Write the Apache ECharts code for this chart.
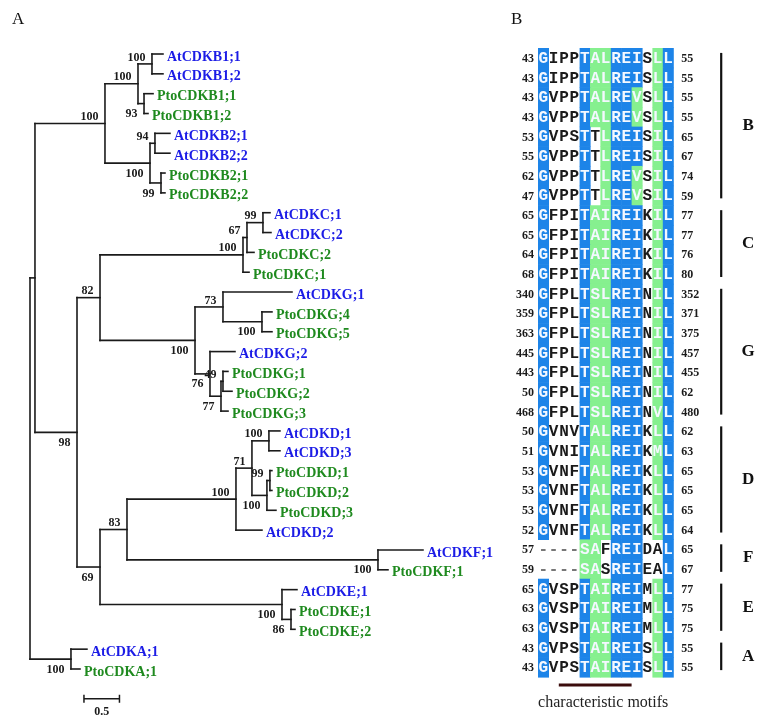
<!DOCTYPE html>
<html><head><meta charset="utf-8">
<script src="https://cdn.jsdelivr.net/npm/echarts@6/dist/echarts.min.js"></script>
<style>html,body{margin:0;padding:0;background:#fff}#c{width:765px;height:724px}</style>
</head><body><div id="c"></div>
<script>
// ---------- Panel A: phylogenetic tree ----------
// [node id, parent id, branch length, bootstrap value, bootstrap side]
const treeNodes = [
 ['root','',0,'',''],
 ['N1','root',0.070,'',''],
 ['B','N1',0.986,'100','up'],
 ['B1','B',0.465,'100','up'],
 ['AtB1','B1',0.197,'100','up'],
 ['AtCDKB1;1','AtB1',0.155,'',''],
 ['AtCDKB1;2','AtB1',0.155,'',''],
 ['PtoB1','B1',0.085,'93','down'],
 ['PtoCDKB1;1','PtoB1',0.127,'',''],
 ['PtoCDKB1;2','PtoB1',0.056,'',''],
 ['B2','B',0.634,'100','down'],
 ['AtB2','B2',0.070,'94','up'],
 ['AtCDKB2;1','AtB2',0.211,'',''],
 ['AtCDKB2;2','AtB2',0.211,'',''],
 ['PtoB2','B2',0.155,'99','down'],
 ['PtoCDKB2;1','PtoB2',0.056,'',''],
 ['PtoCDKB2;2','PtoB2',0.056,'',''],
 ['N2','N1',0.592,'98','down'],
 ['N3','N2',0.324,'82','up'],
 ['C','N3',2.014,'100','up'],
 ['C67','C',0.056,'67','up'],
 ['C99','C67',0.225,'99','up'],
 ['AtCDKC;1','C99',0.099,'',''],
 ['AtCDKC;2','C99',0.113,'',''],
 ['PtoCDKC;2','C67',0.099,'',''],
 ['PtoCDKC;1','C',0.085,'',''],
 ['G','N3',1.338,'100','down'],
 ['G73','G',0.394,'73','up'],
 ['AtCDKG;1','G73',0.972,'',''],
 ['G45','G73',0.549,'100','down'],
 ['PtoCDKG;4','G45',0.141,'',''],
 ['PtoCDKG;5','G45',0.141,'',''],
 ['G76','G',0.211,'76','down'],
 ['AtCDKG;2','G76',0.352,'',''],
 ['G77','G76',0.155,'77','down'],
 ['G49','G77',0.028,'49','up'],
 ['PtoCDKG;1','G49',0.070,'',''],
 ['PtoCDKG;2','G49',0.127,'',''],
 ['PtoCDKG;3','G77',0.099,'',''],
 ['N5','N2',0.324,'69','down'],
 ['N4','N5',0.380,'83','up'],
 ['D','N4',1.535,'100','up'],
 ['D71','D',0.225,'71','up'],
 ['DAt','D71',0.239,'100','up'],
 ['AtCDKD;1','DAt',0.155,'',''],
 ['AtCDKD;3','DAt',0.155,'',''],
 ['DPto','D71',0.211,'100','down'],
 ['D99','DPto',0.042,'99','up'],
 ['PtoCDKD;1','D99',0.028,'',''],
 ['PtoCDKD;2','D99',0.028,'',''],
 ['PtoCDKD;3','DPto',0.127,'',''],
 ['AtCDKD;2','D',0.366,'',''],
 ['F','N4',3.535,'100','down'],
 ['AtCDKF;1','F',0.634,'',''],
 ['PtoCDKF;1','F',0.141,'',''],
 ['E','N5',2.563,'100','down'],
 ['AtCDKE;1','E',0.211,'',''],
 ['PtoE','E',0.127,'86','down'],
 ['PtoCDKE;1','PtoE',0.056,'',''],
 ['PtoCDKE;2','PtoE',0.056,'',''],
 ['A','root',0.577,'100','down'],
 ['AtCDKA;1','A',0.225,'',''],
 ['PtoCDKA;1','A',0.127,'','']
];
const scaleBarLength = 0.5;
const scaleBarLabel = '0.5';

// ---------- Panel B: alignment ----------
const alignStart = [43,43,43,43,53,55,62,47,65,65,64,68,340,359,363,445,443,50,468,50,51,53,53,53,52,57,59,65,63,63,43,43];
const alignEnd   = [55,55,55,55,65,67,74,59,77,77,76,80,352,371,375,457,455,62,480,62,63,65,65,65,64,65,67,77,75,75,55,55];
const alignSeq = [
 'GIPPTALREISLL','GIPPTALREISLL','GVPPTALREVSLL','GVPPTALREVSLL',
 'GVPSTTLREISIL','GVPPTTLREISIL','GVPPTTLREVSIL','GVPPTTLREVSIL',
 'GFPITAIREIKIL','GFPITAIREIKIL','GFPITAIREIKIL','GFPITAIREIKIL',
 'GFPLTSLREINIL','GFPLTSLREINIL','GFPLTSLREINIL','GFPLTSLREINIL','GFPLTSLREINIL','GFPLTSLREINIL','GFPLTSLREINVL',
 'GVNVTALREIKLL','GVNITALREIKML','GVNFTALREIKLL','GVNFTALREIKLL','GVNFTALREIKLL','GVNFTALREIKLL',
 '----SAFREIDAL','----SASREIEAL',
 'GVSPTAIREIMLL','GVSPTAIREIMLL','GVSPTAIREIMLL',
 'GVPSTAIREISLL','GVPSTAIREISLL'
];
// b = identical (blue), g = similar (green), w = unshaded
const alignShade = [
 'bwwwbggbbbwgb','bwwwbggbbbwgb','bwwwbggbbgwgb','bwwwbggbbgwgb',
 'bwwwbwgbbbwgb','bwwwbwgbbbwgb','bwwwbwgbbgwgb','bwwwbwgbbgwgb',
 'bwwwbggbbbwgb','bwwwbggbbbwgb','bwwwbggbbbwgb','bwwwbggbbbwgb',
 'bwwwbggbbbwgb','bwwwbggbbbwgb','bwwwbggbbbwgb','bwwwbggbbbwgb','bwwwbggbbbwgb','bwwwbggbbbwgb','bwwwbggbbbwgb',
 'bwwwbggbbbwgb','bwwwbggbbbwgb','bwwwbggbbbwgb','bwwwbggbbbwgb','bwwwbggbbbwgb','bwwwbggbbbwgb',
 'wwwwggwbbbwwb','wwwwggwbbbwwb',
 'bwwwbggbbbwgb','bwwwbggbbbwgb','bwwwbggbbbwgb',
 'bwwwbggbbbwgb','bwwwbggbbbwgb'
];
const groupNames = ['B','C','G','D','F','E','A'];
const groupFirstRow = [0,8,12,19,25,27,30];
const groupLastRow  = [7,11,18,24,26,29,31];
const motifCols = [2, 8];
const motifLabel = 'characteristic motifs';

// ---------- build tree layout ----------
const byId = {};
treeNodes.forEach(n => { byId[n[0]] = {id:n[0], parent:n[1], bl:n[2], boot:n[3], side:n[4], children:[]}; });
treeNodes.forEach(n => { if (n[1]) byId[n[1]].children.push(byId[n[0]]); });
let leafCounter = 0;
function layout(node, depth) {
  node.x = depth + node.bl;
  if (!node.children.length) { node.y = leafCounter++; }
  else {
    node.children.forEach(c => layout(c, node.x));
    node.y = (node.children[0].y + node.children[node.children.length - 1].y) / 2;
  }
}
layout(byId.root, 0);
const allNodes = treeNodes.map(n => byId[n[0]]);
const segs = [];
allNodes.forEach(n => {
  if (n.parent) { const p = byId[n.parent]; segs.push([p.x, n.y, n.x, n.y]); }
  if (n.children.length) segs.push([n.x, n.children[0].y, n.x, n.children[n.children.length-1].y]);
});
const leaves = allNodes.filter(n => !n.children.length);
const bootNodes = allNodes.filter(n => n.boot);

// ---------- alignment cells ----------
const cells = [];
alignSeq.forEach((s, r) => { for (let c = 0; c < s.length; c++) cells.push([c, r, s[c], alignShade[r][c]]); });
const rowIdx = alignSeq.map((s, r) => r);

const SERIF = 'Liberation Serif, Times New Roman, serif';
const BLUE_TXT = '#1c1ce6', GREEN_TXT = '#1f8a1f';
const SHADE = {b:'#1d84e8', g:'#86f08f', w:'#ffffff'};

const chart = echarts.init(document.getElementById('c'), null, {renderer:'canvas'});
chart.setOption({
  animation:false,
  backgroundColor:'#fff',
  grid:[
    {left:30, top:54, width:426, height:615},
    {left:538, top:48, width:135.2, height:629}
  ],
  xAxis:[
    {type:'value', gridIndex:0, min:0, max:6, show:false},
    {type:'value', gridIndex:1, min:0, max:13, show:false}
  ],
  yAxis:[
    {type:'value', gridIndex:0, min:0, max:31, inverse:true, show:false},
    {type:'value', gridIndex:1, min:0, max:32, inverse:true, show:false}
  ],
  graphic:[
    {type:'text', left:12, top:11, style:{text:'A', font:'17px '+SERIF, fill:'#111'}},
    {type:'text', left:511, top:11, style:{text:'B', font:'17px '+SERIF, fill:'#111'}}
  ],
  series:[
    { // tree branches
      type:'custom', xAxisIndex:0, yAxisIndex:0, clip:false,
      data: segs, encode:{x:[0,2], y:[1,3]},
      renderItem:(params, api) => {
        const s = segs[params.dataIndex];
        const p1 = api.coord([s[0], s[1]]), p2 = api.coord([s[2], s[3]]);
        return {type:'line', shape:{x1:p1[0], y1:p1[1], x2:p2[0], y2:p2[1]},
          style:{stroke:'#1a1a1a', lineWidth:1.6, lineCap:'square'}};
      }
    },
    { // leaf labels
      type:'custom', xAxisIndex:0, yAxisIndex:0, clip:false,
      data: leaves.map(n => [n.x, n.y]),
      renderItem:(params, api) => {
        const n = leaves[params.dataIndex];
        const p = api.coord([n.x, n.y]);
        return {type:'text', x:p[0]+4, y:p[1]+3, style:{text:n.id, font:'bold 14px '+SERIF,
          fill: n.id.startsWith('At') ? BLUE_TXT : GREEN_TXT, textAlign:'left', textVerticalAlign:'middle'}};
      }
    },
    { // bootstrap values
      type:'custom', xAxisIndex:0, yAxisIndex:0, clip:false,
      data: bootNodes.map(n => [n.x, n.y]),
      renderItem:(params, api) => {
        const n = bootNodes[params.dataIndex];
        const p = api.coord([n.x, n.y]);
        return {type:'text', x:p[0]-6.5, y:p[1] + (n.side === 'up' ? -6.5 : 10.5),
          style:{text:n.boot, font:'bold 12px '+SERIF, fill:'#1a1a1a', textAlign:'right', textVerticalAlign:'middle'}};
      }
    },
    { // scale bar
      type:'custom', xAxisIndex:0, yAxisIndex:0, clip:false,
      data:[[0.76, 32.5]],
      renderItem:(params, api) => {
        const a = api.coord([0.76, 32.5]), b = api.coord([0.76 + scaleBarLength, 32.5]);
        const st = {stroke:'#1a1a1a', lineWidth:1.5};
        return {type:'group', children:[
          {type:'line', shape:{x1:a[0], y1:a[1], x2:b[0], y2:b[1]}, style:st},
          {type:'line', shape:{x1:a[0], y1:a[1]-4, x2:a[0], y2:a[1]+4}, style:st},
          {type:'line', shape:{x1:b[0], y1:b[1]-4, x2:b[0], y2:b[1]+4}, style:st},
          {type:'text', x:(a[0]+b[0])/2, y:a[1]+13, style:{text:scaleBarLabel, font:'bold 12px '+SERIF, fill:'#1a1a1a', textAlign:'center', textVerticalAlign:'middle'}}
        ]};
      }
    },
    { // alignment cells
      type:'custom', xAxisIndex:1, yAxisIndex:1, clip:false,
      data: cells.map(c => [c[0], c[1]]),
      renderItem:(params, api) => {
        const c = cells[params.dataIndex];
        const p1 = api.coord([c[0], c[1]]), p2 = api.coord([c[0]+1, c[1]+1]);
        const shaded = c[3] !== 'w';
        const ch = [];
        if (shaded) ch.push({type:'rect', shape:{x:p1[0], y:p1[1], width:p2[0]-p1[0]+0.6, height:p2[1]-p1[1]+0.6},
          style:{fill:SHADE[c[3]]}});
        ch.push({type:'text', x:(p1[0]+p2[0])/2, y:(p1[1]+p2[1])/2+1,
          style:{text:c[2], font:'bold 16px Liberation Mono, Courier New, monospace',
            fill: shaded ? '#f4f8ff' : (c[2] === '-' ? '#777' : '#1a1a1a'), textAlign:'center', textVerticalAlign:'middle'}});
        return {type:'group', children:ch};
      }
    },
    { // alignment position numbers
      type:'custom', xAxisIndex:1, yAxisIndex:1, clip:false,
      data: rowIdx.map(r => [0, r]),
      renderItem:(params, api) => {
        const r = params.dataIndex;
        const a = api.coord([0, r+0.5]), b = api.coord([alignSeq[r].length, r+0.5]);
        const f = 'bold 12px '+SERIF;
        return {type:'group', children:[
          {type:'text', x:a[0]-4, y:a[1]+1, style:{text:String(alignStart[r]), font:f, fill:'#1a1a1a', textAlign:'right', textVerticalAlign:'middle'}},
          {type:'text', x:b[0]+8, y:b[1]+1, style:{text:String(alignEnd[r]), font:f, fill:'#1a1a1a', textAlign:'left', textVerticalAlign:'middle'}}
        ]};
      }
    },
    { // group brackets
      type:'custom', xAxisIndex:1, yAxisIndex:1, clip:false,
      data: groupNames.map((g, i) => [13, groupFirstRow[i]]),
      renderItem:(params, api) => {
        const i = params.dataIndex;
        const a = api.coord([13, groupFirstRow[i] + 0.25]), b = api.coord([13, groupLastRow[i] + 0.65]);
        const x = a[0] + 48;
        return {type:'group', children:[
          {type:'line', shape:{x1:x, y1:a[1], x2:x, y2:b[1]}, style:{stroke:'#111', lineWidth:2.2}},
          {type:'text', x:x+27, y:(a[1]+b[1])/2, style:{text:groupNames[i], font:'bold 17px '+SERIF, fill:'#111', textAlign:'center', textVerticalAlign:'middle'}}
        ]};
      }
    },
    { // motif bar
      type:'custom', xAxisIndex:1, yAxisIndex:1, clip:false,
      data:[[motifCols[0], 32]],
      renderItem:(params, api) => {
        const a = api.coord([motifCols[0], 32]), b = api.coord([motifCols[1]+1, 32]);
        return {type:'group', children:[
          {type:'line', shape:{x1:a[0], y1:a[1]+8, x2:b[0], y2:b[1]+8}, style:{stroke:'#3b0c0c', lineWidth:3}},
          {type:'text', x:(a[0]+b[0])/2 + 8, y:a[1]+26, style:{text:motifLabel, font:'16px '+SERIF, fill:'#222', textAlign:'center', textVerticalAlign:'middle'}}
        ]};
      }
    }
  ]
});
</script>
</body></html>
